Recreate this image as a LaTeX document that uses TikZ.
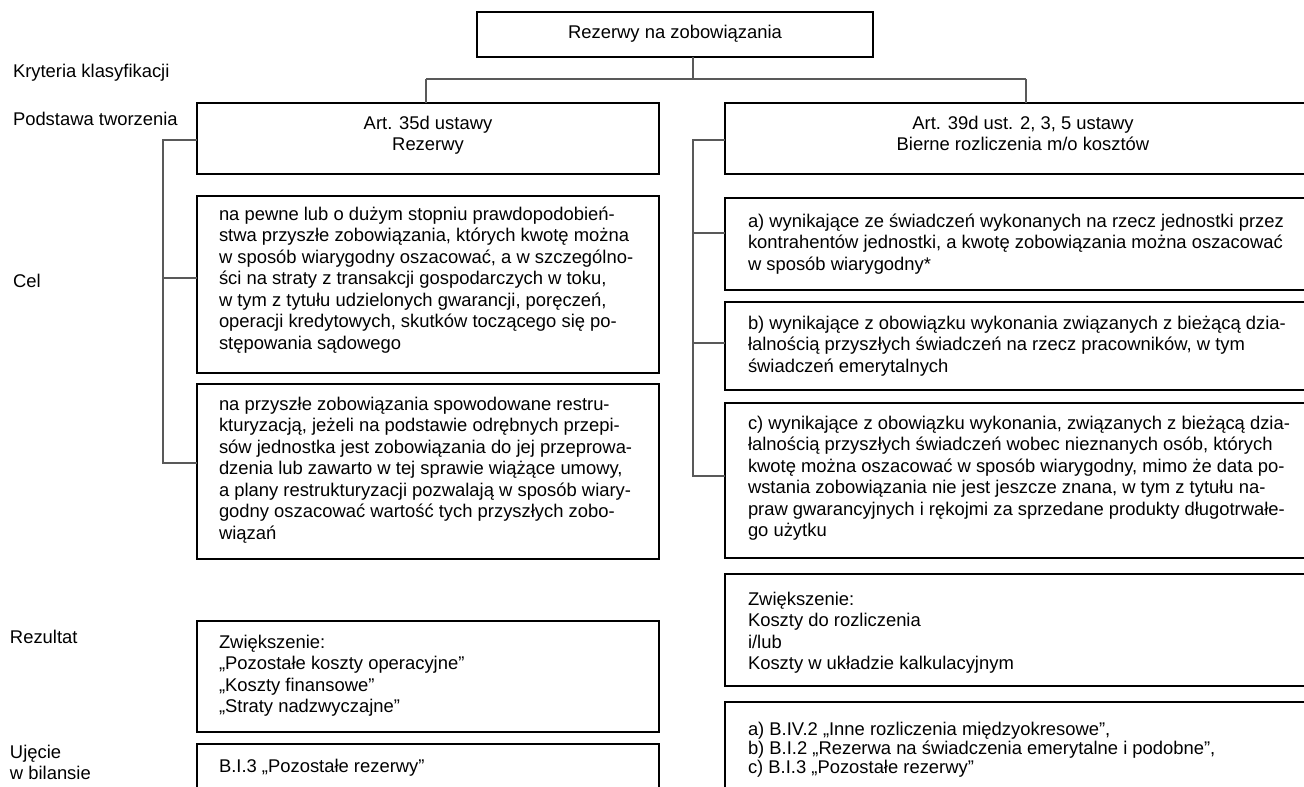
\documentclass[tikz,border=0pt]{standalone}
\usepackage{fontspec}
\setmainfont{Liberation Sans}
\usetikzlibrary{fit}
\newcommand\fsz{\fontsize{13.8}{16.1}\selectfont}
\newcommand\fszt{\fontsize{13.8}{14.3}\selectfont}
\newcommand\sT{\rule{0pt}{14pt}}
\begin{document}
\begin{tikzpicture}[x=0.75pt,y=-0.75pt,
  box/.style={draw=black, line width=1.1pt, inner sep=0pt, outer sep=0pt},
  conn/.style={draw=black!65, line width=0.8pt},
  txt/.style={inner sep=0pt, outer sep=0pt, align=left, anchor=north west, font=\fsz},
  ctxt/.style={inner sep=0pt, outer sep=0pt, align=center, anchor=north, font=\fsz}]
\useasboundingbox (0,0) rectangle (1304,786);
% boxes
\node[box, fit={(477,12) (873,57)}] (top) {};
\node[box, fit={(197,103) (659,174)}] (artL) {};
\node[box, fit={(725,103) (1322,174)}] (artR) {};
\node[box, fit={(197,196) (659,373)}] (pw) {};
\node[box, fit={(197,384) (659,559)}] (rs) {};
\node[box, fit={(197,621) (659,732)}] (rezL) {};
\node[box, fit={(197,744) (659,800)}] (bilL) {};
\node[box, fit={(725,198) (1322,290)}] (ra) {};
\node[box, fit={(725,302) (1322,390)}] (rb) {};
\node[box, fit={(725,403) (1322,558)}] (rc) {};
\node[box, fit={(725,574) (1322,686)}] (rezR) {};
\node[box, fit={(725,702) (1322,800)}] (bilR) {};
% texts
\node[ctxt] (topt) at (675,19.8) {\sT Rezerwy na zobowiązania};
\node[ctxt] (artLt) at (428,110.8) {\sT Art. 35d ustawy\\Rezerwy};
\node[ctxt] (artRt) at (1023,110.8) {\sT Art. 39d ust. 2, 3, 5 ustawy\\Bierne rozliczenia m/o kosztów};
\node[txt] (pwt) at (219,201.8) {\sT na pewne lub o dużym stopniu prawdopodobień-\\stwa przyszłe zobowiązania, których kwotę można\\w sposób wiarygodny oszacować, a w szczególno-\\ści na straty z transakcji gospodarczych w toku,\\w tym z tytułu udzielonych gwarancji, poręczeń,\\operacji kredytowych, skutków toczącego się po-\\stępowania sądowego};
\node[txt] (rst) at (219,391.8) {\sT na przyszłe zobowiązania spowodowane restru-\\kturyzacją, jeżeli na podstawie odrębnych przepi-\\sów jednostka jest zobowiązania do jej przeprowa-\\dzenia lub zawarto w tej sprawie wiążące umowy,\\a plany restrukturyzacji pozwalają w sposób wiary-\\godny oszacować wartość tych przyszłych zobo-\\wiązań};
\node[txt] (rezLt) at (219,629.8) {\sT Zwiększenie:\\„Pozostałe koszty operacyjne”\\„Koszty finansowe”\\„Straty nadzwyczajne”};
\node[txt] (bilLt) at (219,753.8) {\sT B.I.3 „Pozostałe rezerwy”};
\node[txt] (rat) at (748,208.8) {\sT a) wynikające ze świadczeń wykonanych na rzecz jednostki przez\\kontrahentów jednostki, a kwotę zobowiązania można oszacować\\w sposób wiarygodny*};
\node[txt] (rbt) at (748,310.8) {\sT b) wynikające z obowiązku wykonania związanych z bieżącą dzia-\\łalnością przyszłych świadczeń na rzecz pracowników, w tym\\świadczeń emerytalnych};
\node[txt] (rct) at (748,410.8) {\sT c) wynikające z obowiązku wykonania, związanych z bieżącą dzia-\\łalnością przyszłych świadczeń wobec nieznanych osób, których\\kwotę można oszacować w sposób wiarygodny, mimo że data po-\\wstania zobowiązania nie jest jeszcze znana, w tym z tytułu na-\\praw gwarancyjnych i rękojmi za sprzedane produkty długotrwałe-\\go użytku};
\node[txt] (rezRt) at (748,586.8) {\sT Zwiększenie:\\Koszty do rozliczenia\\i/lub\\Koszty w układzie kalkulacyjnym};
\node[txt, font=\fszt] (bilRt) at (748,716.8) {\sT a) B.IV.2 „Inne rozliczenia międzyokresowe”,\\b) B.I.2 „Rezerwa na świadczenia emerytalne i podobne”,\\c) B.I.3 „Pozostałe rezerwy”};
% left labels
\node[txt] (lk) at (13,58.8) {\sT Kryteria klasyfikacji};
\node[txt] (lp) at (13,106.8) {\sT Podstawa tworzenia};
\node[txt] (lc) at (13,268.8) {\sT Cel};
\node[txt] (lr) at (10,624.8) {\sT Rezultat};
\node[txt] (lu) at (10,739.8) {\sT Ujęcie\\w bilansie};
% connectors
\coordinate (tj) at (693,79);
\coordinate (lj) at (426,79);
\coordinate (rj) at (1026,79);
\draw[conn] (top.south -| tj) -- (tj);
\draw[conn] (lj) -- (rj);
\draw[conn] (lj) -- (lj |- artL.north);
\draw[conn] (rj) -- (rj |- artR.north);
% left bracket
\coordinate (lbt) at (163,140);
\coordinate (lbm) at (163,278);
\coordinate (lbb) at (163,463);
\draw[conn] (lbt -| artL.west) -- (lbt) -- (lbb) -- (lbb -| rs.west);
\draw[conn] (lbm) -- (lbm -| pw.west);
% right bracket
\coordinate (rbt) at (693,140);
\coordinate (rba) at (693,233);
\coordinate (rbb) at (693,343);
\coordinate (rbc) at (693,476);
\draw[conn] (rbt -| artR.west) -- (rbt) -- (rbc) -- (rbc -| rc.west);
\draw[conn] (rba) -- (rba -| ra.west);
\draw[conn] (rbb) -- (rbb -| rb.west);
\end{tikzpicture}
\end{document}
